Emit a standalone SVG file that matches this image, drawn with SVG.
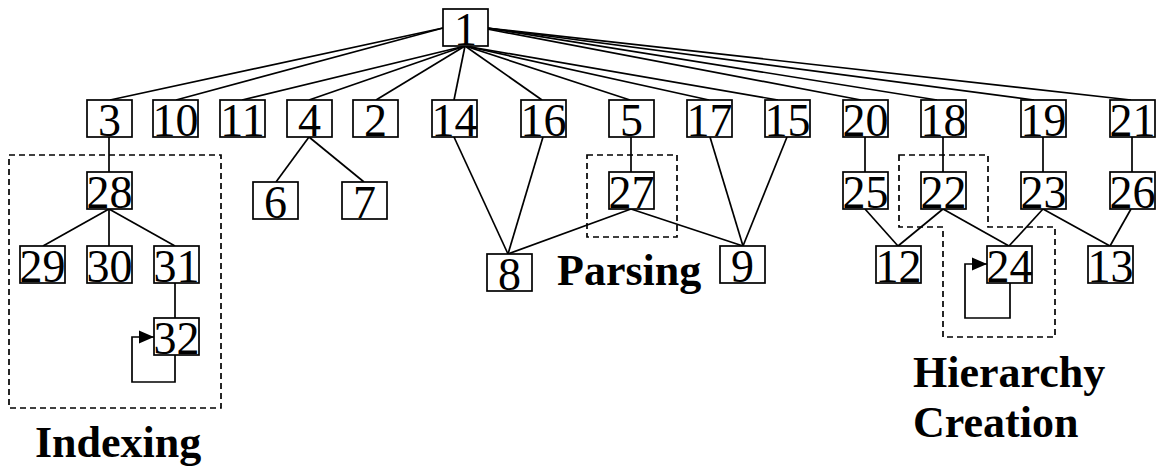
<svg xmlns="http://www.w3.org/2000/svg" width="1159" height="470" viewBox="0 0 1159 470">
<style>
.n rect{fill:#fff;stroke:#000;stroke-width:1.7}
.n text{font-family:"Liberation Serif","Times New Roman",serif;font-size:46px;fill:#000;text-anchor:middle}
.c line,.c path{stroke:#000;stroke-width:1.7;fill:none}
.d{fill:none;stroke:#000;stroke-width:1.7;stroke-dasharray:6,4}
.lbl{font-family:"Liberation Serif","Times New Roman",serif;font-size:44px;font-weight:bold;fill:#000}
</style>
<defs>
<marker id="ah" markerWidth="16" markerHeight="16" refX="15" refY="8" orient="auto" markerUnits="userSpaceOnUse">
<path d="M0,1.5 L15,8 L0,14.5 Z" fill="#000"/>
</marker>
</defs>
<rect width="1159" height="470" fill="#fff"/>
<g id="groups">
<rect class="d" x="9" y="155" width="212" height="253"/>
<rect class="d" x="587" y="155" width="90" height="82"/>
<path class="d" d="M899,155 H988 V227 H1055 V337 H943 V227 H899 Z"/>
</g>
<g class="c" id="connectors">
<line x1="443" y1="28" x2="110" y2="100"/>
<line x1="443" y1="28" x2="176" y2="100"/>
<line x1="465" y1="46" x2="242" y2="100"/>
<line x1="465" y1="46" x2="309" y2="100"/>
<line x1="465" y1="46" x2="376" y2="100"/>
<line x1="465" y1="46" x2="454" y2="100"/>
<line x1="465" y1="46" x2="542" y2="100"/>
<line x1="465" y1="46" x2="630" y2="100"/>
<line x1="465" y1="46" x2="709" y2="100"/>
<line x1="465" y1="46" x2="778" y2="100"/>
<line x1="487" y1="29" x2="861" y2="100"/>
<line x1="487" y1="28" x2="937" y2="100"/>
<line x1="487" y1="28" x2="1034" y2="100"/>
<line x1="487" y1="28" x2="1131" y2="100"/>
<line x1="109" y1="137" x2="109" y2="172"/>
<line x1="109" y1="209" x2="43" y2="246"/>
<line x1="109" y1="209" x2="109" y2="246"/>
<line x1="109" y1="209" x2="175" y2="246"/>
<line x1="175" y1="283" x2="175" y2="318"/>
<path d="M175,355 V382 H132 V337 H154" marker-end="url(#ah)"/>
<line x1="309" y1="137" x2="276" y2="182"/>
<line x1="309" y1="137" x2="364" y2="182"/>
<line x1="454" y1="137" x2="508" y2="254"/>
<line x1="543" y1="137" x2="508" y2="254"/>
<line x1="631" y1="137" x2="631" y2="172"/>
<line x1="631" y1="209" x2="508" y2="254"/>
<line x1="631" y1="209" x2="743" y2="246"/>
<line x1="710" y1="137" x2="743" y2="246"/>
<line x1="787" y1="137" x2="743" y2="246"/>
<line x1="865" y1="137" x2="865" y2="172"/>
<line x1="943" y1="137" x2="943" y2="172"/>
<line x1="1043" y1="137" x2="1043" y2="172"/>
<line x1="1132" y1="137" x2="1132" y2="172"/>
<line x1="865" y1="209" x2="898" y2="246"/>
<line x1="943" y1="209" x2="898" y2="246"/>
<line x1="943" y1="209" x2="1009" y2="246"/>
<line x1="1043" y1="209" x2="1009" y2="246"/>
<line x1="1043" y1="209" x2="1110" y2="246"/>
<line x1="1131" y1="209" x2="1110" y2="246"/>
<path d="M1010,283 V318 H965 V264 H987" marker-end="url(#ah)"/>
</g>
<g class="n" id="n1"><rect x="443" y="9" width="45" height="37"/><text x="465.5" y="45">1</text></g>
<g class="n" id="n3"><rect x="87" y="100" width="45" height="37"/><text x="109.5" y="136">3</text></g>
<g class="n" id="n10"><rect x="153" y="100" width="45" height="37"/><text x="175.5" y="136">10</text></g>
<g class="n" id="n11"><rect x="220" y="100" width="45" height="37"/><text x="242.5" y="136">11</text></g>
<g class="n" id="n4"><rect x="287" y="100" width="45" height="37"/><text x="309.5" y="136">4</text></g>
<g class="n" id="n2"><rect x="353" y="100" width="45" height="37"/><text x="375.5" y="136">2</text></g>
<g class="n" id="n14"><rect x="432" y="100" width="45" height="37"/><text x="454.5" y="136">14</text></g>
<g class="n" id="n16"><rect x="521" y="100" width="45" height="37"/><text x="543.5" y="136">16</text></g>
<g class="n" id="n5"><rect x="609" y="100" width="45" height="37"/><text x="631.5" y="136">5</text></g>
<g class="n" id="n17"><rect x="687" y="100" width="45" height="37"/><text x="709.5" y="136">17</text></g>
<g class="n" id="n15"><rect x="765" y="100" width="45" height="37"/><text x="787.5" y="136">15</text></g>
<g class="n" id="n20"><rect x="843" y="100" width="45" height="37"/><text x="865.5" y="136">20</text></g>
<g class="n" id="n18"><rect x="921" y="100" width="45" height="37"/><text x="943.5" y="136">18</text></g>
<g class="n" id="n19"><rect x="1021" y="100" width="45" height="37"/><text x="1043.5" y="136">19</text></g>
<g class="n" id="n21"><rect x="1110" y="100" width="45" height="37"/><text x="1132.5" y="136">21</text></g>
<g class="n" id="n28"><rect x="87" y="172" width="45" height="37"/><text x="109.5" y="208">28</text></g>
<g class="n" id="n29"><rect x="20" y="246" width="45" height="37"/><text x="42.5" y="282">29</text></g>
<g class="n" id="n30"><rect x="87" y="246" width="45" height="37"/><text x="109.5" y="282">30</text></g>
<g class="n" id="n31"><rect x="154" y="246" width="45" height="37"/><text x="176.5" y="282">31</text></g>
<g class="n" id="n32"><rect x="154" y="318" width="45" height="37"/><text x="176.5" y="354">32</text></g>
<g class="n" id="n6"><rect x="253" y="182" width="45" height="37"/><text x="275.5" y="218">6</text></g>
<g class="n" id="n7"><rect x="342" y="182" width="45" height="37"/><text x="364.5" y="218">7</text></g>
<g class="n" id="n8"><rect x="487" y="254" width="45" height="37"/><text x="509.5" y="290">8</text></g>
<g class="n" id="n27"><rect x="609" y="172" width="45" height="37"/><text x="631.5" y="208">27</text></g>
<g class="n" id="n9"><rect x="720" y="246" width="45" height="37"/><text x="742.5" y="282">9</text></g>
<g class="n" id="n25"><rect x="843" y="172" width="45" height="37"/><text x="865.5" y="208">25</text></g>
<g class="n" id="n22"><rect x="921" y="172" width="45" height="37"/><text x="943.5" y="208">22</text></g>
<g class="n" id="n23"><rect x="1021" y="172" width="45" height="37"/><text x="1043.5" y="208">23</text></g>
<g class="n" id="n26"><rect x="1110" y="172" width="45" height="37"/><text x="1132.5" y="208">26</text></g>
<g class="n" id="n12"><rect x="876" y="246" width="45" height="37"/><text x="898.5" y="282">12</text></g>
<g class="n" id="n24"><rect x="987" y="246" width="45" height="37"/><text x="1009.5" y="282">24</text></g>
<g class="n" id="n13"><rect x="1088" y="246" width="45" height="37"/><text x="1110.5" y="282">13</text></g>
<g id="labels">
<text class="lbl" x="35" y="457">Indexing</text>
<text class="lbl" x="557" y="285">Parsing</text>
<text class="lbl" x="913" y="387">Hierarchy</text>
<text class="lbl" x="913" y="437">Creation</text>
</g>
</svg>
